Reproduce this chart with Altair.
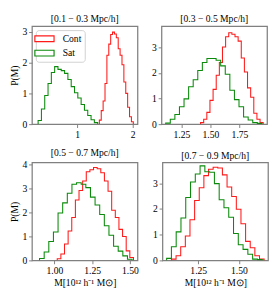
import altair as alt
import numpy as np
import pandas as pd

SERIF = "Liberation Serif"

titles = ["[0.1 − 0.3  Mpc/h]", "[0.3 − 0.5  Mpc/h]",
          "[0.5 − 0.7  Mpc/h]", "[0.7 − 0.9  Mpc/h]"]
series = ["Cont", "Sat"]
colors = ["#ff1a1a", "#0a8a0a"]

# bin ranges (lo, hi) and bin heights
p1_cont_range = [1.40, 2.01]
p1_cont = [0.13, 0.44, 0.75, 1.32, 2.24, 2.60, 2.91, 2.99, 2.93, 2.81, 2.45, 2.24,
           1.93, 1.37, 1.00, 0.55, 0.24, 0.08]
p1_sat_range = [0.30, 1.37]
p1_sat = [0.12, 0.49, 0.93, 1.32, 1.68, 1.87, 1.78, 1.74, 1.65, 1.45, 1.22, 1.02,
          0.85, 0.64, 0.45, 0.28, 0.14, 0.05]

p2_cont_range = [1.415, 1.954]
p2_cont = [0.06, 0.19, 0.46, 0.93, 1.36, 1.91, 2.41, 3.02, 3.42, 3.58, 3.52, 3.42,
           3.25, 2.59, 2.04, 1.42, 1.05, 0.43, 0.19, 0.06]
p2_sat_range = [1.115, 1.943]
p2_sat = [0.04, 0.19, 0.38, 0.68, 0.99, 1.46, 1.74, 2.10, 2.41, 2.57, 2.57, 2.50,
          2.28, 1.95, 1.33, 0.96, 0.68, 0.28, 0.16, 0.06, 0.03]

p3_cont_range = [1.019, 1.523]
p3_cont = [0.07, 0.27, 0.69, 1.23, 1.80, 2.53, 2.93, 3.33, 3.71, 3.80, 3.89, 3.84,
           3.67, 3.33, 2.90, 2.10, 1.80, 1.30, 1.00, 0.40, 0.12]
p3_sat_range = [0.902, 1.514]
p3_sat = [0.08, 0.35, 0.79, 1.19, 1.99, 2.41, 2.81, 3.19, 3.25, 3.19, 3.05, 2.65,
          2.32, 1.92, 1.45, 1.05, 0.59, 0.39, 0.19, 0.05]

p4_cont_range = [1.085, 1.655]
p4_cont = [0.05, 0.18, 0.53, 0.95, 1.58, 2.33, 2.83, 3.30, 3.55, 3.63, 3.60, 3.33,
           2.86, 2.49, 1.99, 1.43, 0.74, 0.49, 0.18, 0.05]
p4_sat_range = [1.0555, 1.643]
p4_sat = [0.08, 0.53, 1.11, 1.65, 2.45, 3.05, 3.36, 3.68, 3.45, 3.43, 2.99, 2.36,
          2.05, 1.68, 1.05, 0.61, 0.43, 0.24, 0.05, 0.03]

x_domains = [[0.19, 2.086], [1.079, 1.9875], [0.852, 1.55], [1.030, 1.679]]
y_domains = [[0, 3.18], [0, 3.83], [0, 4.1], [0, 3.81]]
x_ticks = [[1, 2], [1.25, 1.5, 1.75], [1.0, 1.25, 1.5], [1.25, 1.5]]
x_formats = ["d", ".2f", ".2f", ".2f"]
y_ticks = [[0, 1, 2, 3], [0, 1, 2, 3], [0, 1, 2, 3, 4], [0, 1, 2, 3]]

panels = [
    [("Cont", p1_cont_range, p1_cont), ("Sat", p1_sat_range, p1_sat)],
    [("Cont", p2_cont_range, p2_cont), ("Sat", p2_sat_range, p2_sat)],
    [("Cont", p3_cont_range, p3_cont), ("Sat", p3_sat_range, p3_sat)],
    [("Cont", p4_cont_range, p4_cont), ("Sat", p4_sat_range, p4_sat)],
]


def step_rows(name, rng, heights):
    n = len(heights)
    edges = np.linspace(rng[0], rng[1], n + 1)
    pts = [(edges[0], 0.0)]
    for e, h in zip(edges[:-1], heights):
        pts.append((e, h))
    pts.append((edges[-1], 0.0))
    return [{"x": float(x), "y": float(y), "s": name, "o": i} for i, (x, y) in enumerate(pts)]


W, H = 110, 102


def panel(i, show_legend, xtitle, ytitle):
    rows = []
    for name, rng, h in panels[i]:
        rows += step_rows(name, rng, h)
    df = pd.DataFrame(rows)
    if show_legend:
        leg = alt.Legend(title=None, orient="top-left", offset=4,
                         fillColor="white", strokeColor="#d0d0d0", cornerRadius=3,
                         padding=3, symbolType="M-2,-0.6H2V0.6H-2Z", symbolSize=100,
                         symbolStrokeWidth=1.2, symbolFillColor="white",
                         labelFont=SERIF, labelFontSize=10, labelColor="black",
                         labelOffset=13, rowPadding=3)
    else:
        leg = None
    xax = alt.Axis(values=x_ticks[i], format=x_formats[i], title=xtitle)
    yax = alt.Axis(values=y_ticks[i], format="d", title=ytitle)
    return alt.Chart(df).mark_line(interpolate="step-after", strokeWidth=1.1, clip=True).encode(
        x=alt.X("x:Q", scale=alt.Scale(domain=x_domains[i], nice=False, zero=False), axis=xax),
        y=alt.Y("y:Q", scale=alt.Scale(domain=y_domains[i], nice=False), axis=yax),
        color=alt.Color("s:N", scale=alt.Scale(domain=series, range=colors), legend=leg),
        order=alt.Order("o:Q"),
    ).properties(
        width=W, height=H,
        title=alt.TitleParams(text=titles[i], font=SERIF, fontSize=10, fontWeight="normal",
                              color="black", offset=2, anchor="middle"),
    )


xt = "M[10¹² h⁻¹ M⊙]"
yt = "P(M)"
c1 = panel(0, True, None, yt)
c2 = panel(1, False, None, None)
c3 = panel(2, False, xt, yt)
c4 = panel(3, False, xt, None)

top = alt.hconcat(c1, c2, spacing=12).resolve_scale(x="independent", y="independent", color="independent").resolve_legend(color="independent")
bot = alt.hconcat(c3, c4, spacing=12).resolve_scale(x="independent", y="independent", color="independent").resolve_legend(color="independent")
chart = alt.vconcat(top, bot, spacing=7).resolve_scale(
    x="independent", y="independent", color="independent"
).resolve_legend(color="independent").properties(padding=0).configure_view(
    stroke="#808080", strokeWidth=1.3
).configure_axis(
    domain=False, grid=False, tickColor="#808080", tickSize=3.5, tickWidth=1,
    labelFont=SERIF, labelFontSize=10, labelColor="black", labelPadding=2,
    titleFont=SERIF, titleFontSize=10, titleFontWeight="normal", titleColor="black",
    titlePadding=3,
)

chart.save("out.html", embed_options={"renderer": "svg", "actions": False})
